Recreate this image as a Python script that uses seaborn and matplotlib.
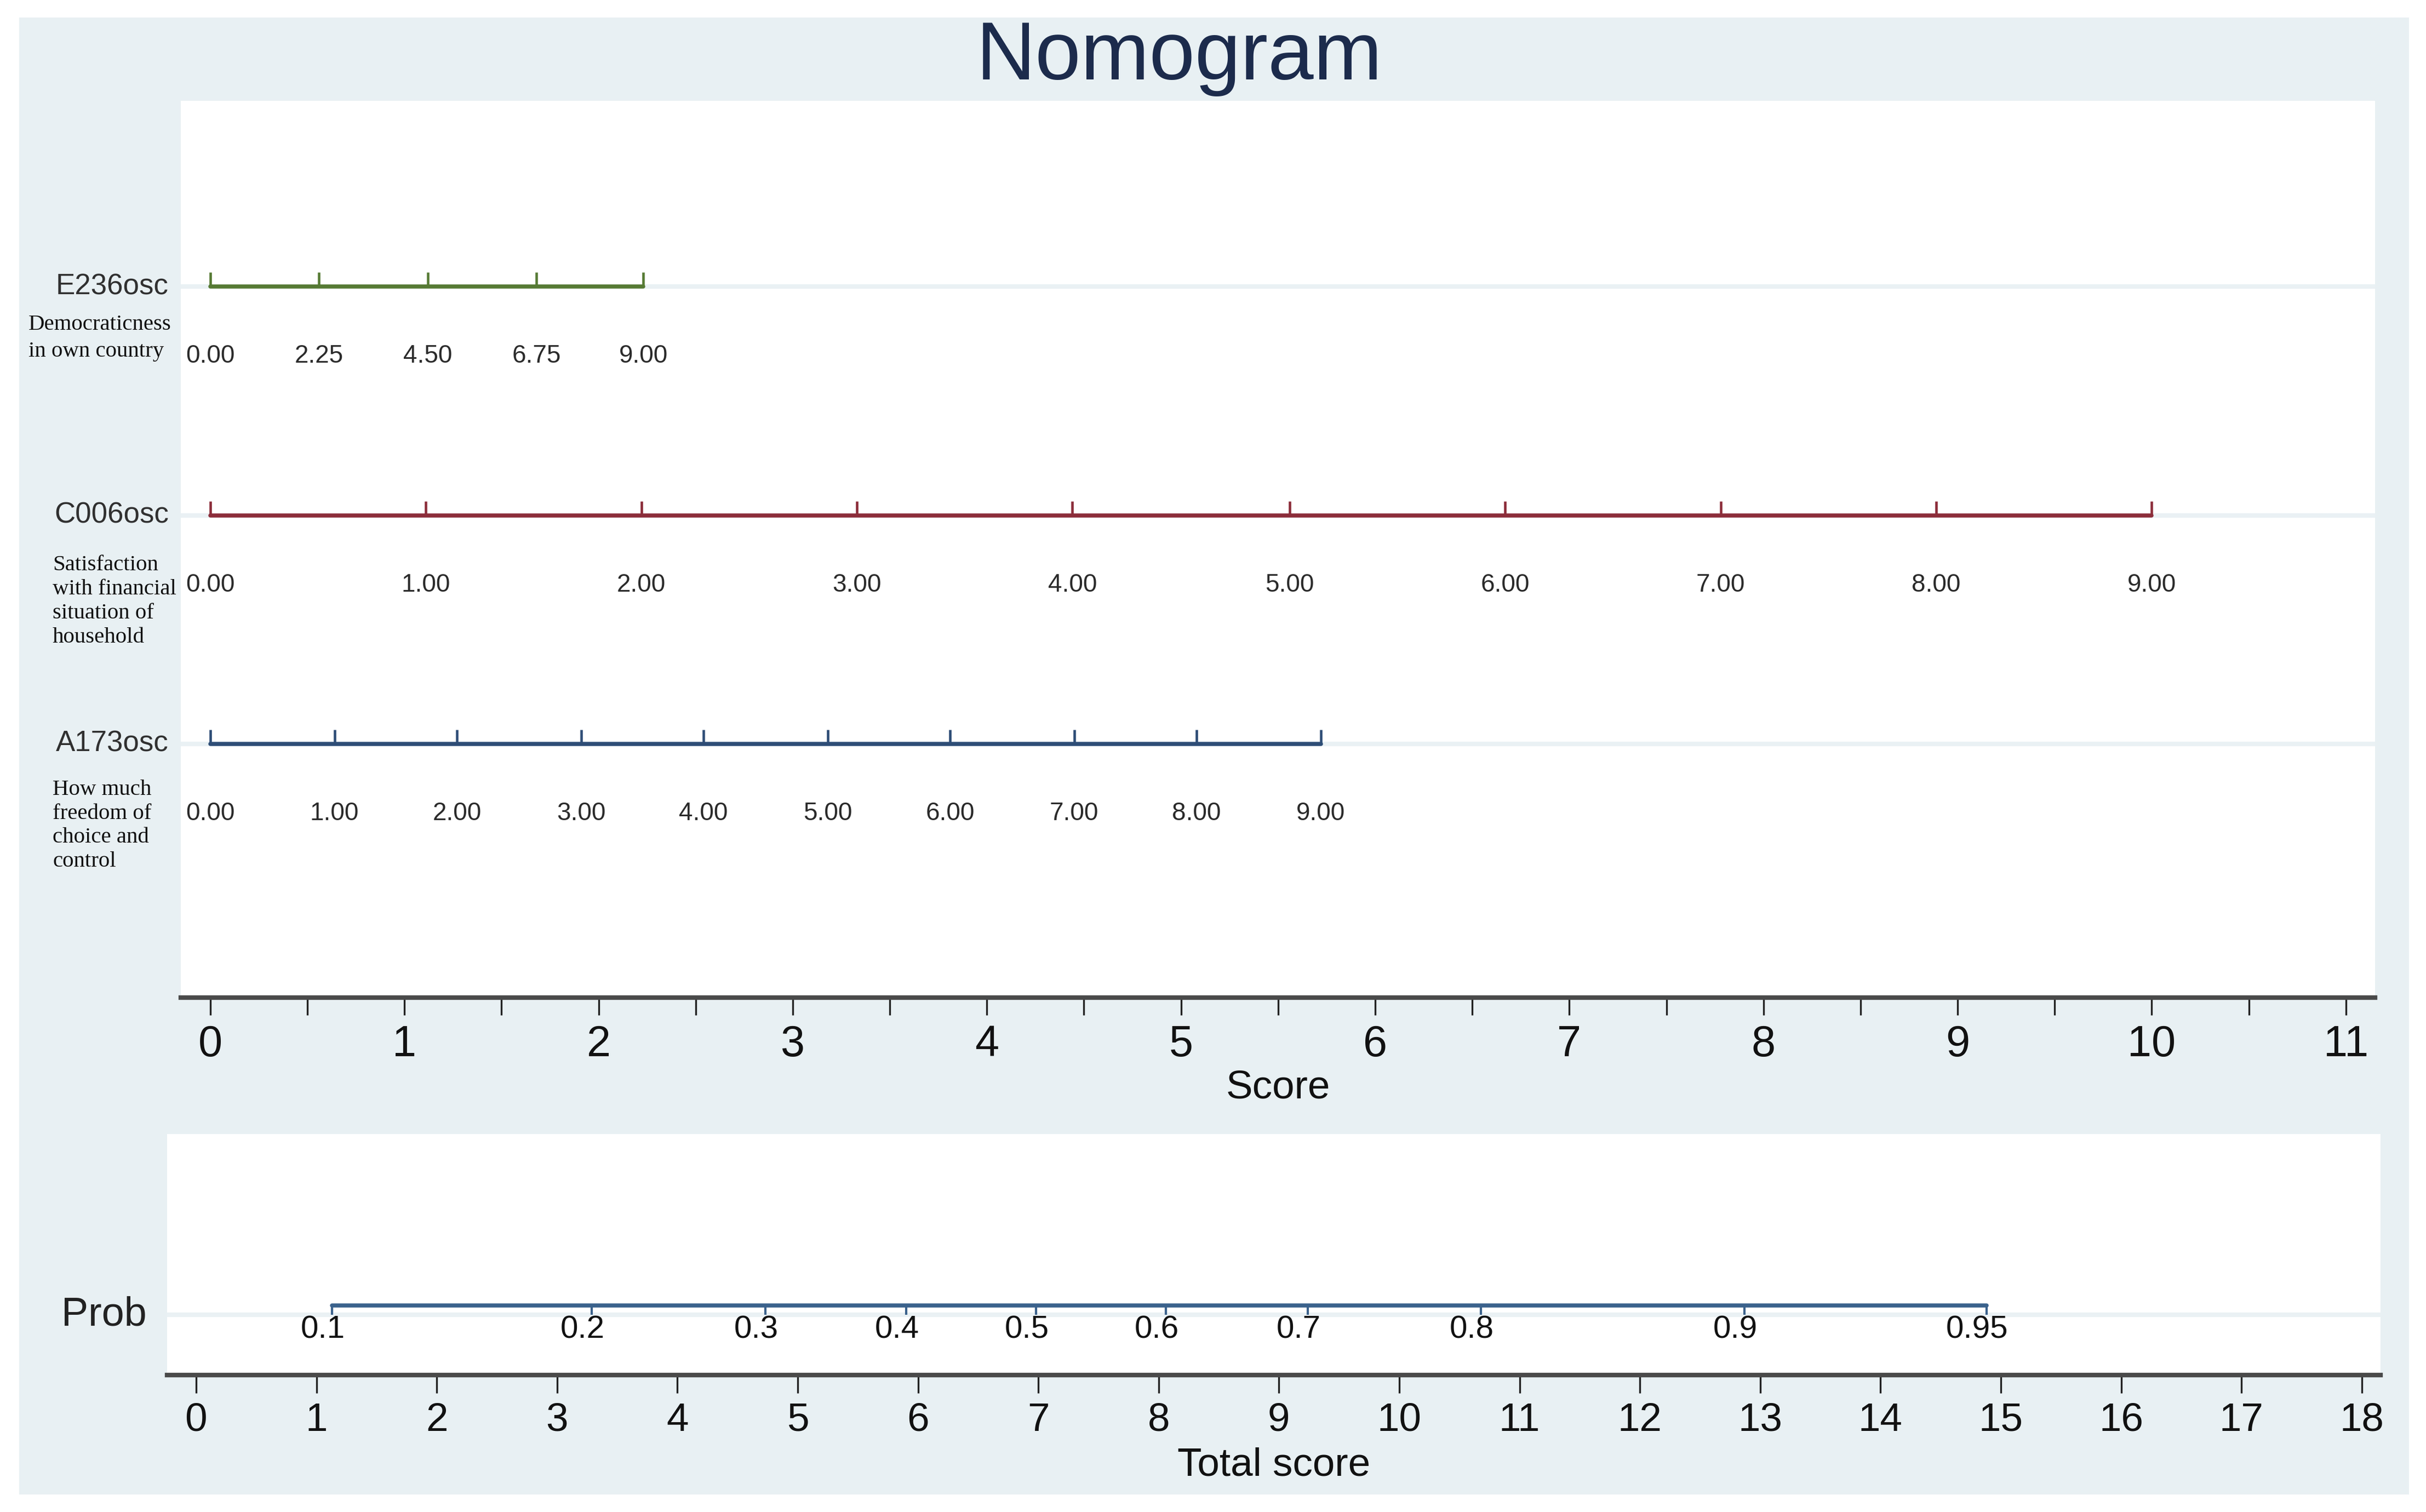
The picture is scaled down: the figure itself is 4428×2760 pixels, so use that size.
import numpy as np
import pandas as pd
import matplotlib
matplotlib.use('Agg')
import matplotlib.pyplot as plt
import matplotlib.transforms as mtransforms
from matplotlib.patches import Rectangle
import seaborn as sns

# --- dati del nomogramma ---
var_names = ['E236osc', 'C006osc', 'A173osc']
var_desc = ['Democraticness\nin own country',
            'Satisfaction\nwith financial\nsituation of\nhousehold',
            'How much\nfreedom of\nchoice and\ncontrol']

e236_labels = ['0.00', '2.25', '4.50', '6.75', '9.00']
e236_points = [0.00, 0.56, 1.12, 1.68, 2.23]

c006_labels = ['0.00', '1.00', '2.00', '3.00', '4.00', '5.00', '6.00', '7.00', '8.00', '9.00']
c006_points = [0.00, 1.11, 2.22, 3.33, 4.44, 5.56, 6.67, 7.78, 8.89, 10.00]

a173_labels = ['0.00', '1.00', '2.00', '3.00', '4.00', '5.00', '6.00', '7.00', '8.00', '9.00']
a173_points = [0.00, 0.64, 1.27, 1.91, 2.54, 3.18, 3.81, 4.45, 5.08, 5.72]

prob_labels = ['0.1', '0.2', '0.3', '0.4', '0.5', '0.6', '0.7', '0.8', '0.9', '0.95']
prob_points = [1.13, 3.29, 4.73, 5.90, 6.98, 8.06, 9.24, 10.68, 12.87, 14.88]

score_ticks = list(range(0, 12))
total_ticks = list(range(0, 19))

# --- stile ---
var_colors = ['#567a34', '#8c2d3a', '#2e4d76']
prob_color = '#3b628c'
bg_color = '#e8f0f3'
grid_color = '#eaf1f4'
text_color = '#2a2a2a'

sns.set_theme(style='white')
plt.rcParams['font.family'] = ['Liberation Sans', 'DejaVu Sans']

W, H = 4428, 2760
fig = plt.figure(figsize=(W / 300, H / 300), dpi=300, facecolor='white')
fig.add_artist(Rectangle((35 / W, 1 - 2728 / H), (4397 - 35) / W, (2728 - 32) / H,
                         transform=fig.transFigure, facecolor=bg_color,
                         edgecolor='none', zorder=-5))

ax = fig.add_axes([330 / W, 1 - 1821 / H, (4335 - 330) / W, (1821 - 184) / H])
ax2 = fig.add_axes([305 / W, 1 - 2510 / H, (4345 - 305) / W, (2510 - 2070) / H])

fig.text(2153 / W, 1 - 145 / H, 'Nomogram', ha='center', va='baseline',
         fontsize=36, color='#1c2b4c')

# --- pannello superiore: punteggi per variabile ---
rows = [3, 2, 1]
all_points = [e236_points, c006_points, a173_points]
all_labels = [e236_labels, c006_labels, a173_labels]
desc_x = [52 / W, 96 / W, 96 / W]
desc_dy = [0.225, 0.376, 0.357]
desc_ls = [1.45, 1.24, 1.24]

trans_fig_data = mtransforms.blended_transform_factory(fig.transFigure, ax.transData)

for i, name in enumerate(var_names):
    y = rows[i]
    pts = all_points[i]
    ax.axhline(y, color=grid_color, lw=2.0, zorder=1)
    df = pd.DataFrame({'x': pts, 'y': [y] * len(pts)})
    sns.lineplot(data=df, x='x', y='y', color=var_colors[i], lw=1.8, ax=ax,
                 legend=False, zorder=3)
    ax.vlines(pts, y, y + 0.062, color=var_colors[i], lw=1.1, zorder=3)
    for p, lab in zip(pts, all_labels[i]):
        ax.text(p, y - 0.305, lab, ha='center', va='center', fontsize=11,
                color=text_color)
    ax.text(308 / W, y, name, transform=trans_fig_data, ha='right', va='center',
            fontsize=12.7, color='#303030')
    ax.text(desc_x[i], y - desc_dy[i], var_desc[i], transform=trans_fig_data,
            ha='left', va='center', multialignment='left', fontsize=9.8,
            linespacing=desc_ls[i], color='#111111', family='Liberation Serif')

ax.set_xlim(-0.152, 11.15)
ax.set_ylim(-0.109, 3.812)
ax.set_xticks(score_ticks)
ax.set_xticks(np.arange(0.5, 11, 1.0), minor=True)
ax.set_xticklabels([str(t) for t in score_ticks])
ax.set_yticks([])
ax.set_xlabel('Score', fontsize=17.5, color='#111111')
ax.xaxis.set_label_coords(0.5, -0.101)
ax.xaxis.label.set_va('center')

# --- pannello inferiore: probabilita' ---
ax2.axhline(1.0, color=grid_color, lw=2.0, zorder=1)
dfp = pd.DataFrame({'x': prob_points, 'y': [1.041] * len(prob_points)})
sns.lineplot(data=dfp, x='x', y='y', color=prob_color, lw=1.8, ax=ax2,
             legend=False, zorder=3)
ax2.vlines(prob_points, 1.0, 1.041, color=prob_color, lw=1.0, zorder=3)
for p, lab in zip(prob_points, prob_labels):
    ax2.annotate(lab, (p, 0.935), xytext=(-4, 0), textcoords='offset points',
                 ha='center', va='center', fontsize=14, color='#111111')
trans2 = mtransforms.blended_transform_factory(fig.transFigure, ax2.transData)
ax2.text(112 / W, 1.0, 'Prob', transform=trans2, ha='left', va='center',
         fontsize=17.7, color='#222222')

ax2.set_xlim(-0.241, 18.156)
ax2.set_ylim(0.737, 1.790)
ax2.set_xticks(total_ticks)
ax2.set_xticklabels([str(t) for t in total_ticks])
ax2.set_yticks([])
ax2.set_xlabel('Total score', fontsize=17.5, color='#111111')
ax2.xaxis.set_label_coords(0.5, -0.375)
ax2.xaxis.label.set_va('center')

for a in (ax, ax2):
    a.set_facecolor('white')
    a.set_ylabel('')
    for s in ('top', 'left', 'right'):
        a.spines[s].set_visible(False)
    a.spines['bottom'].set_color('#4a4a4a')
    a.spines['bottom'].set_linewidth(2.0)
    a.tick_params(axis='x', which='both', direction='out', length=7.7,
                  width=0.8, color='#222222', bottom=True)

ax.tick_params(axis='x', which='major', labelsize=19, pad=4, labelcolor='#111111')
ax2.tick_params(axis='x', which='major', labelsize=17.5, pad=4, labelcolor='#111111',
                length=7.9)

fig.savefig('out.png', dpi=300, facecolor='white')
